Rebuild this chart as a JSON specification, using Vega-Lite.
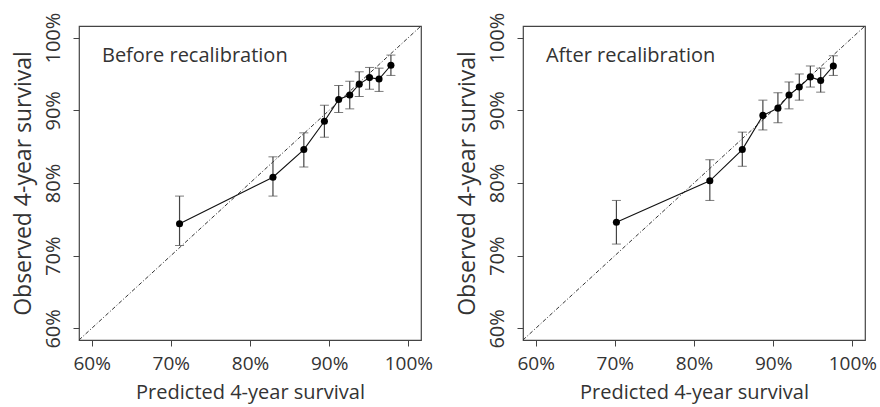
{
  "$schema": "https://vega.github.io/schema/vega-lite/v6.json",
  "padding": {"left": 11, "top": 11, "right": 5, "bottom": 2},
  "background": "white",
  "datasets": {
    "before": [
      {"predicted": 71.1, "observed": 74.4, "lo": 71.4, "hi": 78.2},
      {"predicted": 82.9, "observed": 80.8, "lo": 78.2, "hi": 83.6},
      {"predicted": 86.8, "observed": 84.6, "lo": 82.2, "hi": 86.9},
      {"predicted": 89.4, "observed": 88.5, "lo": 86.3, "hi": 90.7},
      {"predicted": 91.2, "observed": 91.5, "lo": 89.7, "hi": 93.4},
      {"predicted": 92.6, "observed": 92.1, "lo": 90.2, "hi": 94.0},
      {"predicted": 93.8, "observed": 93.6, "lo": 91.9, "hi": 95.3},
      {"predicted": 95.1, "observed": 94.5, "lo": 92.9, "hi": 95.9},
      {"predicted": 96.3, "observed": 94.3, "lo": 92.6, "hi": 95.8},
      {"predicted": 97.8, "observed": 96.2, "lo": 94.8, "hi": 97.6}
    ],
    "after": [
      {"predicted": 70.2, "observed": 74.6, "lo": 71.6, "hi": 77.6},
      {"predicted": 82.0, "observed": 80.3, "lo": 77.6, "hi": 83.2},
      {"predicted": 86.1, "observed": 84.6, "lo": 82.3, "hi": 87.0},
      {"predicted": 88.7, "observed": 89.3, "lo": 87.3, "hi": 91.4},
      {"predicted": 90.6, "observed": 90.3, "lo": 88.3, "hi": 92.4},
      {"predicted": 92.0, "observed": 92.1, "lo": 90.2, "hi": 93.9},
      {"predicted": 93.3, "observed": 93.2, "lo": 91.4, "hi": 95.0},
      {"predicted": 94.7, "observed": 94.6, "lo": 93.2, "hi": 96.1},
      {"predicted": 96.0, "observed": 94.1, "lo": 92.5, "hi": 95.8},
      {"predicted": 97.6, "observed": 96.1, "lo": 94.8, "hi": 97.5}
    ],
    "diagonal": [
      {"v": 58.4},
      {"v": 101.6}
    ],
    "labelBefore": [{"x": 61.3, "y": 96.6, "text": "Before recalibration"}],
    "labelAfter": [{"x": 61.3, "y": 96.6, "text": "After recalibration"}]
  },
  "spacing": 102,
  "bounds": "flush",
  "hconcat": [
    {
      "width": 342,
      "height": 314,
      "layer": [
        {
          "data": {"name": "diagonal"},
          "mark": {"type": "line", "color": "#333", "strokeWidth": 1, "strokeDash": [4, 2, 1, 2], "clip": true},
          "encoding": {
            "x": {"field": "v", "type": "quantitative"},
            "y": {"field": "v", "type": "quantitative"}
          }
        },
        {
          "data": {"name": "before"},
          "mark": {"type": "errorbar", "ticks": {"size": 9, "color": "#444", "strokeWidth": 1.2}, "rule": {"color": "#444", "strokeWidth": 1.2}},
          "encoding": {
            "x": {"field": "predicted", "type": "quantitative"},
            "y": {"field": "lo", "type": "quantitative"},
            "y2": {"field": "hi"}
          }
        },
        {
          "data": {"name": "before"},
          "mark": {"type": "line", "color": "#111", "strokeWidth": 1.1, "point": {"filled": true, "color": "#000", "size": 50, "opacity": 1}},
          "encoding": {
            "x": {"field": "predicted", "type": "quantitative"},
            "y": {"field": "observed", "type": "quantitative"}
          }
        },
        {
          "data": {"name": "labelBefore"},
          "mark": {"type": "text", "align": "left", "baseline": "alphabetic", "fontSize": 20, "color": "#333", "font": "Open Sans"},
          "encoding": {
            "x": {"field": "x", "type": "quantitative"},
            "y": {"field": "y", "type": "quantitative"},
            "text": {"field": "text"}
          }
        }
      ],
      "encoding": {
        "x": {
          "type": "quantitative",
          "scale": {"domain": [58.4, 101.6], "nice": false, "zero": false},
          "axis": {"title": "Predicted 4-year survival", "values": [60, 70, 80, 90, 100], "labelExpr": "datum.value + '%'"}
        },
        "y": {
          "type": "quantitative",
          "scale": {"domain": [58.4, 101.6], "nice": false, "zero": false},
          "axis": {"title": "Observed 4-year survival", "values": [60, 70, 80, 90, 100], "labelExpr": "datum.value + '%'"}
        }
      }
    },
    {
      "width": 342,
      "height": 314,
      "layer": [
        {
          "data": {"name": "diagonal"},
          "mark": {"type": "line", "color": "#333", "strokeWidth": 1, "strokeDash": [4, 2, 1, 2], "clip": true},
          "encoding": {
            "x": {"field": "v", "type": "quantitative"},
            "y": {"field": "v", "type": "quantitative"}
          }
        },
        {
          "data": {"name": "after"},
          "mark": {"type": "errorbar", "ticks": {"size": 9, "color": "#444", "strokeWidth": 1.2}, "rule": {"color": "#444", "strokeWidth": 1.2}},
          "encoding": {
            "x": {"field": "predicted", "type": "quantitative"},
            "y": {"field": "lo", "type": "quantitative"},
            "y2": {"field": "hi"}
          }
        },
        {
          "data": {"name": "after"},
          "mark": {"type": "line", "color": "#111", "strokeWidth": 1.1, "point": {"filled": true, "color": "#000", "size": 50, "opacity": 1}},
          "encoding": {
            "x": {"field": "predicted", "type": "quantitative"},
            "y": {"field": "observed", "type": "quantitative"}
          }
        },
        {
          "data": {"name": "labelAfter"},
          "mark": {"type": "text", "align": "left", "baseline": "alphabetic", "fontSize": 20, "color": "#333", "font": "Open Sans"},
          "encoding": {
            "x": {"field": "x", "type": "quantitative"},
            "y": {"field": "y", "type": "quantitative"},
            "text": {"field": "text"}
          }
        }
      ],
      "encoding": {
        "x": {
          "type": "quantitative",
          "scale": {"domain": [58.4, 101.6], "nice": false, "zero": false},
          "axis": {"title": "Predicted 4-year survival", "values": [60, 70, 80, 90, 100], "labelExpr": "datum.value + '%'"}
        },
        "y": {
          "type": "quantitative",
          "scale": {"domain": [58.4, 101.6], "nice": false, "zero": false},
          "axis": {"title": "Observed 4-year survival", "values": [60, 70, 80, 90, 100], "labelExpr": "datum.value + '%'"}
        }
      }
    }
  ],
  "config": {
    "font": "Open Sans",
    "view": {"stroke": "#444", "strokeWidth": 1.2},
    "axis": {
      "grid": false,
      "domain": false,
      "tickColor": "#444",
      "tickSize": 6,
      "tickWidth": 1,
      "labelColor": "#333",
      "labelFont": "Open Sans",
      "titleColor": "#333",
      "titleFont": "Open Sans",
      "titleFontWeight": "normal"
    },
    "axisX": {
      "labelPadding": 8,
      "labelFontSize": 19,
      "titleFontSize": 20,
      "titlePadding": 9
    },
    "axisY": {
      "labelAngle": -90,
      "labelAlign": "center",
      "labelBaseline": "bottom",
      "labelPadding": 10,
      "labelFontSize": 20,
      "titleFontSize": 23,
      "titlePadding": 8
    }
  }
}
